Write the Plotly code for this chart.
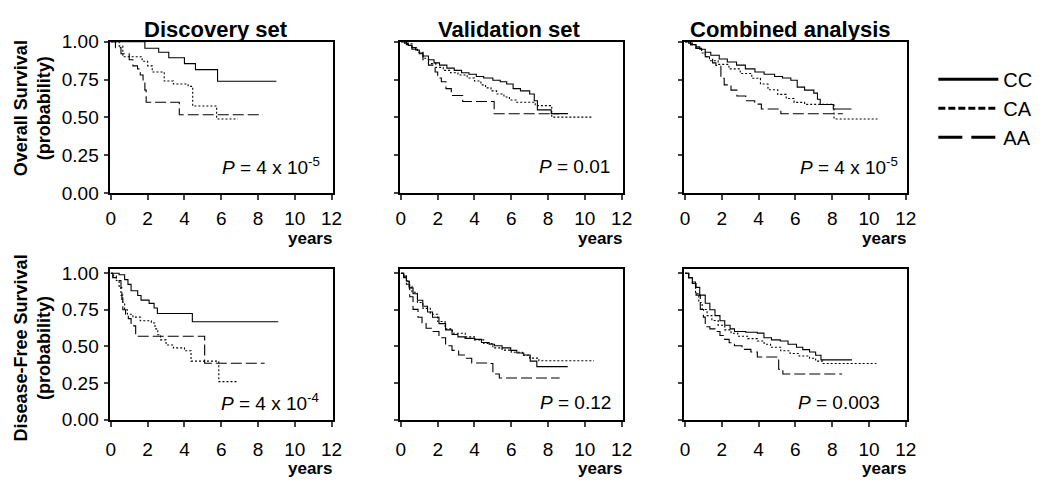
import plotly.graph_objects as go

# ---------------- Kaplan-Meier step data (years, survival probability) ----------------
# Overall survival — Discovery set
OS_DISC_CC_T = [0, 1.85, 2.6, 3.15, 4.0, 4.6, 5.8, 9.0]
OS_DISC_CC_S = [1.0, 0.956, 0.93, 0.893, 0.855, 0.815, 0.739, 0.739]
OS_DISC_CA_T = [0, 0.45, 0.65, 1.7, 2.0, 2.25, 2.9, 3.4, 4.2, 4.45, 5.75, 6.9]
OS_DISC_CA_S = [1.0, 0.97, 0.90, 0.87, 0.84, 0.80, 0.74, 0.72, 0.705, 0.575, 0.49, 0.49]
OS_DISC_AA_T = [0, 0.25, 0.55, 1.0, 1.2, 1.45, 1.6, 1.75, 1.85, 1.92, 3.72, 8.27]
OS_DISC_AA_S = [1.0, 0.96, 0.92, 0.88, 0.84, 0.82, 0.78, 0.74, 0.68, 0.60, 0.518, 0.518]

# Overall survival — Validation set
OS_VAL_CC_T = [0, 0.2, 0.4, 0.6, 0.8, 1.0, 1.2, 1.5, 1.8, 2.1, 2.5, 2.9, 3.3, 3.7, 4.1, 4.5,
               5.0, 5.4, 5.75, 6.1, 6.5, 7.0, 7.25, 7.42, 8.17, 9.08]
OS_VAL_CC_S = [1.0, 0.99, 0.975, 0.96, 0.945, 0.925, 0.905, 0.88, 0.86, 0.845, 0.825, 0.81,
               0.795, 0.785, 0.77, 0.76, 0.745, 0.735, 0.72, 0.69, 0.675, 0.655, 0.61, 0.55,
               0.525, 0.525]
OS_VAL_CA_T = [0, 0.3, 0.6, 0.9, 1.2, 1.5, 1.9, 2.3, 2.7, 3.1, 3.6, 4.0, 4.35, 4.6, 4.9, 5.2,
               5.6, 5.9, 6.3, 7.3, 8.2, 10.46]
OS_VAL_CA_S = [1.0, 0.985, 0.96, 0.93, 0.89, 0.855, 0.83, 0.81, 0.795, 0.78, 0.76, 0.74,
               0.715, 0.695, 0.675, 0.655, 0.635, 0.615, 0.60, 0.578, 0.502, 0.502]
OS_VAL_AA_T = [0, 0.3, 0.6, 0.9, 1.2, 1.5, 1.86, 2.0, 2.2, 2.45, 2.74, 3.36, 5.07, 8.6]
OS_VAL_AA_S = [1.0, 0.98, 0.95, 0.92, 0.88, 0.845, 0.80, 0.76, 0.735, 0.69, 0.645, 0.605,
               0.524, 0.524]

# Overall survival — Combined analysis
OS_COMB_CC_T = [0, 0.2, 0.4, 0.6, 0.8, 1.1, 1.4, 1.86, 2.3, 2.8, 3.28, 3.8, 4.3, 4.87, 5.3,
                5.75, 6.1, 6.5, 7.0, 7.2, 7.35, 8.06, 9.05]
OS_COMB_CC_S = [1.0, 0.99, 0.98, 0.965, 0.95, 0.93, 0.91, 0.885, 0.865, 0.845, 0.82, 0.80,
                0.785, 0.77, 0.76, 0.745, 0.70, 0.68, 0.66, 0.62, 0.585, 0.556, 0.556]
OS_COMB_CA_T = [0, 0.3, 0.6, 0.9, 1.1, 1.33, 1.8, 2.39, 3.0, 3.63, 4.1, 4.51, 5.04, 5.5,
                5.93, 6.5, 8.1, 10.46]
OS_COMB_CA_S = [1.0, 0.98, 0.955, 0.925, 0.9, 0.874, 0.85, 0.82, 0.79, 0.758, 0.72, 0.683,
                0.652, 0.625, 0.599, 0.586, 0.49, 0.49]
OS_COMB_AA_T = [0, 0.3, 0.6, 0.9, 1.1, 1.33, 1.5, 1.68, 1.95, 2.13, 2.5, 2.82, 3.3, 3.79,
                4.15, 5.21, 8.58]
OS_COMB_AA_S = [1.0, 0.98, 0.955, 0.93, 0.90, 0.885, 0.86, 0.842, 0.758, 0.715, 0.68, 0.641,
                0.61, 0.588, 0.556, 0.524, 0.524]

# Disease-free survival — Discovery set
DFS_DISC_CC_T = [0, 0.45, 0.75, 0.93, 1.1, 1.46, 1.64, 2.08, 2.35, 2.53, 4.43, 9.1]
DFS_DISC_CC_S = [1.0, 0.989, 0.956, 0.924, 0.88, 0.848, 0.816, 0.794, 0.762, 0.725, 0.669, 0.669]
DFS_DISC_CA_T = [0, 0.15, 0.3, 0.45, 0.55, 0.65, 0.75, 0.9, 1.2, 1.6, 2.2, 2.4, 2.55, 2.7,
                 3.0, 3.4, 4.0, 4.36, 5.87, 6.93]
DFS_DISC_CA_S = [1.0, 0.98, 0.95, 0.90, 0.85, 0.80, 0.75, 0.72, 0.70, 0.675, 0.66, 0.62,
                 0.58, 0.545, 0.51, 0.49, 0.47, 0.40, 0.26, 0.26]
DFS_DISC_AA_T = [0, 0.1, 0.3, 0.55, 0.6, 0.65, 0.8, 0.95, 1.1, 1.35, 5.1, 8.36]
DFS_DISC_AA_S = [1.0, 0.97, 0.95, 0.90, 0.82, 0.75, 0.72, 0.69, 0.64, 0.569, 0.385, 0.385]

# Disease-free survival — Validation set
DFS_VAL_CC_T = [0, 0.15, 0.3, 0.45, 0.66, 0.9, 1.19, 1.45, 1.72, 2.07, 2.43, 2.78, 3.1, 3.49,
                4.02, 4.38, 4.8, 5.09, 5.5, 5.97, 6.3, 6.68, 7.03, 7.39, 9.07]
DFS_VAL_CC_S = [1.0, 0.98, 0.946, 0.90, 0.86, 0.815, 0.774, 0.735, 0.699, 0.656, 0.613, 0.581,
                0.565, 0.555, 0.548, 0.527, 0.515, 0.505, 0.49, 0.473, 0.455, 0.441, 0.40,
                0.362, 0.362]
DFS_VAL_CA_T = [0, 0.15, 0.3, 0.45, 0.6, 0.9, 1.2, 1.6, 2.0, 2.4, 2.8, 3.5, 4.0, 4.5, 5.0,
                5.5, 6.0, 6.6, 7.0, 7.5, 10.5]
DFS_VAL_CA_S = [1.0, 0.98, 0.95, 0.91, 0.87, 0.80, 0.76, 0.72, 0.67, 0.62, 0.59, 0.565,
                0.545, 0.52, 0.49, 0.475, 0.46, 0.44, 0.42, 0.402, 0.402]
DFS_VAL_AA_T = [0, 0.15, 0.3, 0.48, 0.66, 0.93, 1.15, 1.37, 1.72, 2.07, 2.43, 2.78, 3.14,
                3.49, 3.85, 4.73, 5.0, 5.35, 8.63]
DFS_VAL_AA_S = [1.0, 0.97, 0.925, 0.839, 0.753, 0.699, 0.66, 0.624, 0.602, 0.559, 0.505,
                0.473, 0.441, 0.419, 0.387, 0.383, 0.312, 0.284, 0.284]

# Disease-free survival — Combined analysis
DFS_COMB_CC_T = [0, 0.2, 0.4, 0.57, 0.8, 1.1, 1.35, 1.63, 1.9, 2.16, 2.45, 2.69, 3.3, 3.93,
                 4.29, 4.7, 5.18, 5.6, 6.06, 6.4, 6.77, 7.1, 7.39, 9.08]
DFS_COMB_CC_S = [1.0, 0.97, 0.94, 0.903, 0.85, 0.795, 0.75, 0.71, 0.675, 0.645, 0.62, 0.602,
                 0.597, 0.591, 0.559, 0.545, 0.537, 0.515, 0.494, 0.478, 0.462, 0.44, 0.408,
                 0.408]
DFS_COMB_CA_T = [0, 0.2, 0.4, 0.57, 0.75, 0.93, 1.2, 1.46, 1.8, 2.16, 2.5, 2.87, 3.4, 3.93,
                 4.3, 4.65, 5.2, 5.71, 6.2, 6.77, 7.1, 7.48, 10.4]
DFS_COMB_CA_S = [1.0, 0.97, 0.93, 0.86, 0.80, 0.752, 0.71, 0.677, 0.645, 0.613, 0.59, 0.57,
                 0.553, 0.537, 0.515, 0.494, 0.47, 0.452, 0.435, 0.419, 0.40, 0.383, 0.383]
DFS_COMB_AA_T = [0, 0.2, 0.4, 0.6, 0.83, 1.0, 1.1, 1.35, 1.63, 1.9, 2.16, 2.4, 2.69, 3.1,
                 3.58, 3.93, 5.09, 5.32, 8.54]
DFS_COMB_AA_S = [1.0, 0.97, 0.93, 0.85, 0.752, 0.70, 0.634, 0.62, 0.602, 0.575, 0.548, 0.525,
                 0.505, 0.48, 0.462, 0.428, 0.344, 0.312, 0.312]

GENOTYPES = ["CC", "CA", "AA"]
COLUMN_TITLES = ["Discovery set", "Validation set", "Combined analysis"]
ROW_TITLES = ["Overall Survival<br>(probability)", "Disease-Free Survival<br>(probability)"]
P_LABELS = [["<i>P</i> = 4 x 10<sup>-5</sup>", "<i>P</i> = 0.01", "<i>P</i> = 4 x 10<sup>-5</sup>"],
            ["<i>P</i> = 4 x 10<sup>-4</sup>", "<i>P</i> = 0.12", "<i>P</i> = 0.003"]]
X_TICKS = [0, 2, 4, 6, 8, 10, 12]
Y_TICKS = [0, 0.25, 0.5, 0.75, 1.0]
Y_TICK_TEXT = ["0.00", "0.25", "0.50", "0.75", "1.00"]

PANELS = [
    [((OS_DISC_CC_T, OS_DISC_CC_S), (OS_DISC_CA_T, OS_DISC_CA_S), (OS_DISC_AA_T, OS_DISC_AA_S)),
     ((OS_VAL_CC_T, OS_VAL_CC_S), (OS_VAL_CA_T, OS_VAL_CA_S), (OS_VAL_AA_T, OS_VAL_AA_S)),
     ((OS_COMB_CC_T, OS_COMB_CC_S), (OS_COMB_CA_T, OS_COMB_CA_S), (OS_COMB_AA_T, OS_COMB_AA_S))],
    [((DFS_DISC_CC_T, DFS_DISC_CC_S), (DFS_DISC_CA_T, DFS_DISC_CA_S), (DFS_DISC_AA_T, DFS_DISC_AA_S)),
     ((DFS_VAL_CC_T, DFS_VAL_CC_S), (DFS_VAL_CA_T, DFS_VAL_CA_S), (DFS_VAL_AA_T, DFS_VAL_AA_S)),
     ((DFS_COMB_CC_T, DFS_COMB_CC_S), (DFS_COMB_CA_T, DFS_COMB_CA_S), (DFS_COMB_AA_T, DFS_COMB_AA_S))],
]

# ---------------- layout geometry ----------------
W, H = 1041, 490
FONT = "Liberation Sans, Arial, Helvetica, sans-serif"


def fx(px):
    return px / W


def fy(py):
    return 1 - py / H


COL_PX = [(107, 333), (401, 627), (689, 915)]
ROW_PX = [(33, 191.5), (271, 428)]
ROW_YMAX = [1.0, 1.026]
ROW_TICK_STANDOFF = [2, 7]
YEARS_Y = [239, 479]

CURVE_DASH = {"CC": "solid", "CA": "2px,2px", "AA": "11px,4px"}
LEGEND_DASH = {"CC": "solid", "CA": "7px,3px", "AA": "24px,9px"}

fig = go.Figure()
layout = dict(
    width=W, height=H, autosize=False,
    margin=dict(l=0, r=0, t=0, b=0),
    paper_bgcolor="white", plot_bgcolor="white",
    font=dict(family=FONT, color="black", size=19),
    showlegend=True,
)

annotations = []
for r in range(2):
    for c in range(3):
        k = r * 3 + c + 1
        xa = "x" if k == 1 else f"x{k}"
        ya = "y" if k == 1 else f"y{k}"
        for g, (t, s) in zip(GENOTYPES, PANELS[r][c]):
            fig.add_trace(go.Scatter(
                x=t, y=s, mode="lines", line_shape="hv",
                line=dict(color="black", width=1.1, dash=CURVE_DASH[g]),
                xaxis=xa, yaxis=ya, showlegend=False, hoverinfo="skip"))
        x0, x1 = COL_PX[c]
        y0, y1 = ROW_PX[r]
        layout["xaxis" if k == 1 else f"xaxis{k}"] = dict(
            domain=[fx(x0), fx(x1)], anchor=ya, range=[-0.07, 12.05],
            tickvals=X_TICKS, ticks="outside", ticklen=5, tickwidth=1.5,
            ticklabelstandoff=ROW_TICK_STANDOFF[r],
            showline=True, linewidth=2, linecolor="black", mirror=True,
            showgrid=False, zeroline=False, tickfont=dict(size=19), fixedrange=True)
        layout["yaxis" if k == 1 else f"yaxis{k}"] = dict(
            domain=[fy(y1), fy(y0)], anchor=xa, range=[0, ROW_YMAX[r]],
            tickvals=Y_TICKS, ticktext=Y_TICK_TEXT, ticks="outside", ticklen=4,
            tickwidth=1.5, showticklabels=(c == 0), ticklabelstandoff=1,
            showline=True, linewidth=2, linecolor="black", mirror=True,
            showgrid=False, zeroline=False, tickfont=dict(size=19), fixedrange=True)
        # p-value label inside the panel
        p_y = 163 if r == 0 else 410
        p_right = [322, 616, 908] if r == 0 else [321, 617, 890]
        annotations.append(dict(
            text=P_LABELS[r][c], x=fx(p_right[c]), y=fy(p_y), xref="paper", yref="paper",
            xanchor="right", yanchor="middle", showarrow=False, font=dict(size=19)))
        # time unit label under each panel
        annotations.append(dict(
            text="<b>years</b>", x=fx(x1 + 1), y=fy(YEARS_Y[r]),
            xref="paper", yref="paper", xanchor="right", yanchor="middle",
            showarrow=False, font=dict(size=17)))

# column headers
for cx, title in zip([215, 512, 797], COLUMN_TITLES):
    annotations.append(dict(
        text=f"<b>{title}</b>", x=fx(cx), y=fy(20), xref="paper", yref="paper",
        xanchor="center", yanchor="middle", showarrow=False, font=dict(size=22)))

# row headers
for cy, title in zip([103, 353], ROW_TITLES):
    annotations.append(dict(
        text=f"<b>{title}</b>", x=fx(29), y=fy(cy), xref="paper", yref="paper",
        xanchor="center", yanchor="middle", textangle=-90, showarrow=False,
        font=dict(size=18)))

# legend entries (legend-only traces with heavier strokes)
for g in GENOTYPES:
    fig.add_trace(go.Scatter(
        x=[None], y=[None], mode="lines", name=g,
        line=dict(color="black", width=3, dash=LEGEND_DASH[g]),
        xaxis="x3", yaxis="y3", showlegend=True))

layout["legend"] = dict(
    x=fx(942), y=fy(52), xanchor="left", yanchor="top",
    bgcolor="rgba(0,0,0,0)", borderwidth=0, itemwidth=60,
    font=dict(size=20, family=FONT), tracegroupgap=0, itemclick=False,
    itemdoubleclick=False)
layout["annotations"] = annotations

fig.update_layout(**layout)
fig.write_html("out.html")
